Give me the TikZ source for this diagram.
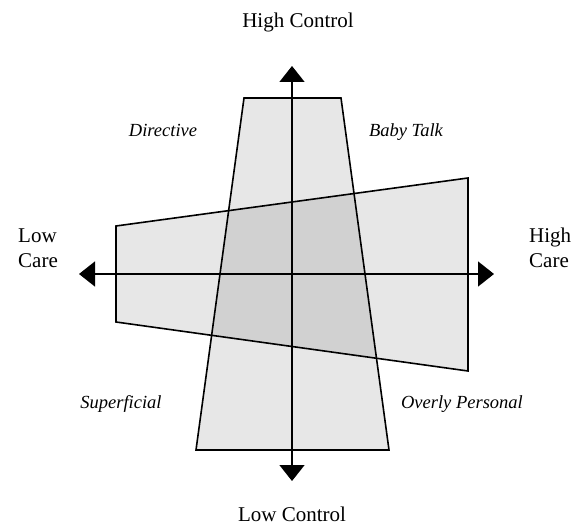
\documentclass[tikz,border=0pt]{standalone}
\usepackage{fontspec}
\setmainfont{Liberation Serif}
\usetikzlibrary{arrows.meta}
\begin{document}
\begin{tikzpicture}[x=1pt,y=-1pt,
  shapefill/.style={fill=black,fill opacity=0.095,draw=none},
  shapeline/.style={draw=black,line width=1.6pt,line join=miter},
  axisline/.style={draw=black,line width=1.5pt,{Triangle[width=25pt,length=16pt]}-{Triangle[width=25pt,length=16pt]}},
  axislabel/.style={font=\fontsize{21}{25}\selectfont,anchor=base,align=left,inner sep=0pt},
  quadlabel/.style={font=\fontsize{18.5}{22}\selectfont\itshape,anchor=base,inner sep=0pt}]
\useasboundingbox (0,0) rectangle (581,529);
% control trapezoid
\coordinate (t1) at (244,98);
\coordinate (t2) at (341,98);
\coordinate (t3) at (389,450);
\coordinate (t4) at (196,450);
% care quadrilateral
\coordinate (c1) at (116,226);
\coordinate (c2) at (468,178);
\coordinate (c3) at (468,371);
\coordinate (c4) at (116,322);
\path[shapefill] (t1) -- (t2) -- (t3) -- (t4) -- cycle;
\path[shapefill] (c1) -- (c2) -- (c3) -- (c4) -- cycle;
\draw[shapeline] (t1) -- (t2) -- (t3) -- (t4) -- cycle;
\draw[shapeline] (c1) -- (c2) -- (c3) -- (c4) -- cycle;
% axes
\coordinate (top) at (292,66);
\coordinate (bot) at (292,481);
\coordinate (lft) at (79,274);
\coordinate (rgt) at (494,274);
\draw[axisline] (bot) -- (top);
\draw[axisline] (lft) -- (rgt);
% labels
\node[axislabel] (hc) at (298,28) {High Control};
\node[axislabel] (lc) at (292,521) {Low Control};
\node[axislabel,anchor=base west] (lcare) at (18,268) {Low\\Care};
\node[axislabel,anchor=base west] (hcare) at (529,268) {High\\Care};
\node[quadlabel] (dir) at (163,137) {Directive};
\node[quadlabel] (bt) at (406,137) {Baby Talk};
\node[quadlabel] (sup) at (121,408) {Superficial};
\node[quadlabel] (op) at (462,408) {Overly Personal};
\end{tikzpicture}
\end{document}
